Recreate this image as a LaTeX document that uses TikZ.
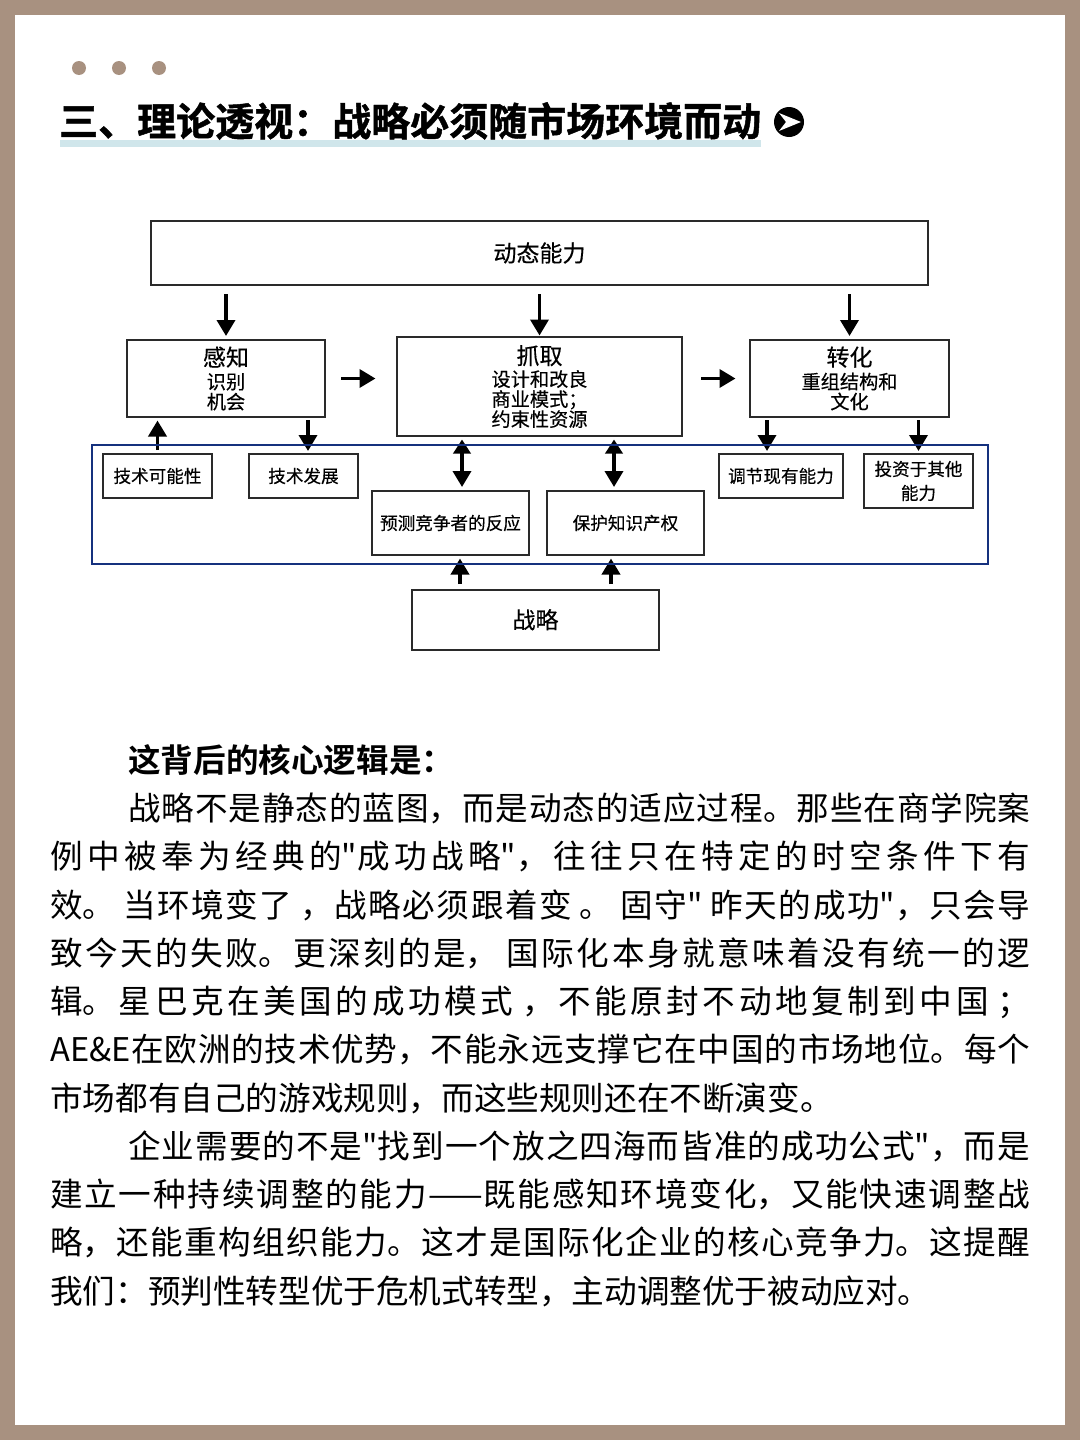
\documentclass[tikz,border=0pt]{standalone}
\usepackage{fontspec}
\usetikzlibrary{arrows.meta}
\setmainfont[Ligatures=TeXOff]{Noto Sans CJK SC}
\newfontfamily\titlefont[FakeBold=1.2]{Noto Sans CJK SC Bold}
\newfontfamily\boldcjk[Ligatures=TeXOff]{Noto Sans CJK SC Bold}
\newfontfamily\diagfont[Ligatures=TeXOff,FakeBold=0.35]{Noto Sans CJK SC}
\definecolor{frametan}{HTML}{A89180}
\definecolor{underl}{HTML}{D0E6EB}
\definecolor{bluebox}{HTML}{15317E}
\definecolor{boxline}{HTML}{2A2A2A}
\XeTeXlinebreaklocale "zh"
\XeTeXlinebreakskip=0pt plus 8pt minus 1pt
\newcommand{\fa}{\fontsize{23}{20}\selectfont}
\newcommand{\fb}{\fontsize{19.2}{20}\selectfont}
\newcommand{\fc}{\fontsize{17.6}{20}\selectfont}
\tikzset{
  x=1pt,y=-1pt,
  bx/.style={draw=boxline,line width=2pt,fill=white,inner sep=0pt,align=center,font=\diagfont\fontsize{19.2}{20}\selectfont},
  arr/.style={line width=3.6pt,black,-{Triangle[length=16pt,width=18pt]}},
  arrd/.style={line width=3.6pt,black,{Triangle[length=14pt,width=17pt]}-{Triangle[length=16pt,width=18pt]}},
  dot/.style={circle,fill=frametan,minimum size=14pt,inner sep=0pt},
  para/.style={anchor=north west,inner sep=0pt,text width=980pt,align=justify,font=\fontsize{32.6}{48.27}\selectfont},
}
\begin{document}
\begin{tikzpicture}
\useasboundingbox (0,0) rectangle (1080,1440);
\fill[frametan] (0,0) rectangle (1080,1440);
\fill[white] (15,15) rectangle (1065,1425);
\node[dot] (d1) at (79,68) {};
\node[dot] (d2) at (119,68) {};
\node[dot] (d3) at (159,68) {};
\fill[underl] (60,140) rectangle (761,147);
\node[anchor=west,inner sep=0pt,font=\titlefont\fontsize{39}{44}\selectfont] (title) at (59,121) {三、理论透视：战略必须随市场环境而动};
\node[circle,fill=black,minimum size=30pt,inner sep=0pt] (icon) at (789,122) {};
\fill[white] (779,113) -- (801,122) -- (779,131) -- (786,122) -- cycle;

\node[bx,minimum width=777pt,minimum height=64pt] (top) at (539.5,253) {\fa 动态能力};
\node[bx,minimum width=198pt,minimum height=77pt] (sense) at (226,378.5) {\fa 感知\\[3pt]\fb 识别\\\fb 机会};
\node[bx,minimum width=285pt,minimum height=99pt] (seize) at (539.5,386.5) {\fa 抓取\\[2pt]\fb 设计和改良\\\fb 商业模式；\\\fb 约束性资源};
\node[bx,minimum width=199pt,minimum height=77pt] (trans) at (849.5,378.5) {\fa 转化\\[3pt]\fb 重组结构和\\\fb 文化};
\node[bx,minimum width=109pt,minimum height=44pt] (tech) at (157.5,476) {\fc 技术可能性};
\node[bx,minimum width=109pt,minimum height=44pt] (dev) at (303.5,476) {\fc 技术发展};
\node[bx,minimum width=157pt,minimum height=64pt] (pred) at (450.5,523) {\fc 预测竞争者的反应};
\node[bx,minimum width=157pt,minimum height=64pt] (prot) at (625.5,523) {\fc 保护知识产权};
\node[bx,minimum width=124pt,minimum height=44pt] (adj) at (781,476) {\fc 调节现有能力};
\node[bx,minimum width=109pt,minimum height=54pt] (inv) at (918.5,481) {\fc 投资于其他\\[4pt]\fc 能力};
\node[bx,minimum width=247pt,minimum height=60pt] (strat) at (535.5,620) {\raisebox{-2pt}[18pt][5pt]{\fa 战略}};

\draw[arr,shorten <=8pt,shorten >=3pt] (sense.north |- top.south) -- (sense.north);
\draw[arr,shorten <=8pt,shorten >=0.5pt] (seize.north |- top.south) -- (seize.north);
\draw[arr,shorten <=8pt,shorten >=3pt] (trans.north |- top.south) -- (trans.north);
\draw[arr,shorten <=15pt,shorten >=20.5pt] (sense.east) -- (sense.east -| seize.west);
\draw[arr,shorten <=18pt,shorten >=13.5pt] (trans.west -| seize.east) -- (trans.west);
\draw[arr,shorten <=3pt,shorten >=2.5pt] (tech.north) -- (tech.north |- sense.south);
\draw[arr,shorten <=2pt,shorten >=2pt] ([xshift=4.5pt]dev.north |- sense.south) -- ([xshift=4.5pt]dev.north);
\draw[arrd,shorten <=2.5pt,shorten >=3pt] ([xshift=11.5pt]pred.north |- seize.south) -- ([xshift=11.5pt]pred.north);
\draw[arrd,shorten <=2.5pt,shorten >=3pt] ([xshift=-11.5pt]prot.north |- seize.south) -- ([xshift=-11.5pt]prot.north);
\draw[arr,shorten <=2pt,shorten >=2pt] ([xshift=-14pt]adj.north |- trans.south) -- ([xshift=-14pt]adj.north);
\draw[arr,shorten <=2pt,shorten >=2pt] (inv.north |- trans.south) -- (inv.north);
\draw[arr,shorten <=5pt,shorten >=2.5pt] ([xshift=9.5pt]pred.south |- strat.north) -- ([xshift=9.5pt]pred.south);
\draw[arr,shorten <=5pt,shorten >=2.5pt] ([xshift=-14.5pt]prot.south |- strat.north) -- ([xshift=-14.5pt]prot.south);
\node[draw=bluebox,line width=2.8pt,minimum width=896pt,minimum height=119pt,inner sep=0pt] (frame) at (540,504.5) {};

\node[para] (body) at (50,744) {%
\hspace*{78pt}{\boldcjk 这背后的核心逻辑是：}\newline
\hspace*{78pt}战略不是静态的蓝图，而是动态的适应过程。那些在商学院案\linebreak
例中被奉为经典的"成功战略"，往往只在特定的时空条件下有\linebreak
效。 当环境变了 ，战略必须跟着变 。 固守" 昨天的成功"，只会导\linebreak
致今天的失败。更深刻的是， 国际化本身就意味着没有统一的逻\linebreak
辑。星巴克在美国的成功模式 ，不能原封不动地复制到中国 ；\linebreak
AE\&E在欧洲的技术优势，不能永远支撑它在中国的市场地位。每个\linebreak
市场都有自己的游戏规则，而这些规则还在不断演变。\newline
\hspace*{78pt}企业需要的不是"找到一个放之四海而皆准的成功公式"，而是\linebreak
建立一种持续调整的能力——既能感知环境变化，又能快速调整战\linebreak
略，还能重构组织能力。这才是国际化企业的核心竞争力。这提醒\linebreak
我们：预判性转型优于危机式转型，主动调整优于被动应对。\par};
\end{tikzpicture}
\end{document}
